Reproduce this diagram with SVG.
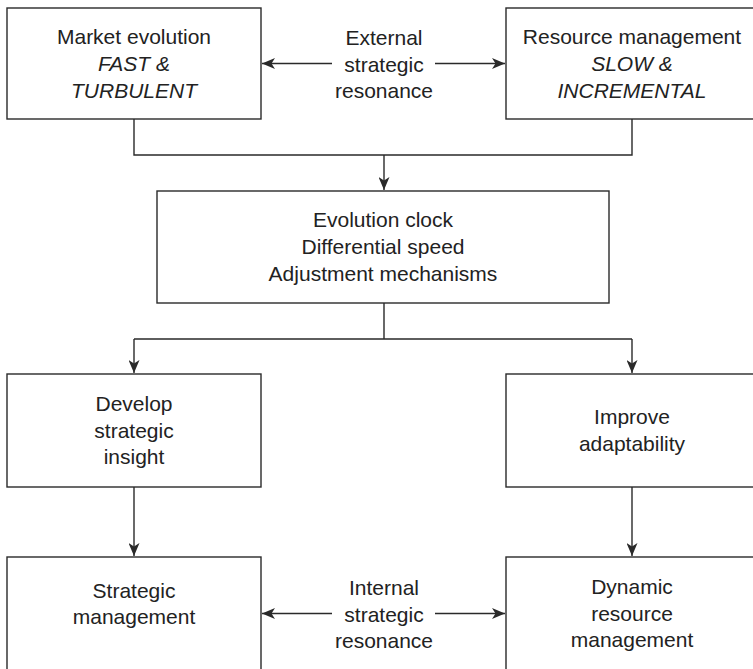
<svg xmlns="http://www.w3.org/2000/svg" width="753" height="669" viewBox="0 0 753 669">
  <style>
    .box { fill: #ffffff; stroke: #2a2a2a; stroke-width: 1.4; }
    .wire { fill: none; stroke: #2a2a2a; stroke-width: 1.4; }
    text { font-family: "Liberation Sans", Arial, sans-serif; font-size: 21px; fill: #222222; text-anchor: middle; }
    .it { font-style: italic; }
  </style>
  <defs>
    <marker id="head" viewBox="0 0 13 11" refX="13" refY="5.5" markerWidth="13" markerHeight="11" markerUnits="userSpaceOnUse" orient="auto">
      <path d="M0,0 L13,5.5 L0,11 L3.5,5.5 Z" fill="#2a2a2a"/>
    </marker>
  </defs>
  <rect width="753" height="669" fill="#ffffff"/>

  <g id="market-evolution">
    <rect class="box" x="7" y="8" width="254" height="111"/>
    <text x="134" y="44">Market evolution</text>
    <text class="it" x="134" y="71">FAST &amp;</text>
    <text class="it" x="134" y="97.5">TURBULENT</text>
  </g>

  <g id="resource-management">
    <rect class="box" x="506" y="8" width="260" height="111"/>
    <text x="632" y="44">Resource management</text>
    <text class="it" x="632" y="71">SLOW &amp;</text>
    <text class="it" x="632" y="97.5">INCREMENTAL</text>
  </g>

  <g id="external-resonance">
    <text x="384" y="45">External</text>
    <text x="384" y="71.5">strategic</text>
    <text x="384" y="98">resonance</text>
  </g>

  <g id="evolution-clock">
    <rect class="box" x="157" y="191" width="452" height="112"/>
    <text x="383" y="227">Evolution clock</text>
    <text x="383" y="254">Differential speed</text>
    <text x="383" y="280.5">Adjustment mechanisms</text>
  </g>

  <g id="develop-insight">
    <rect class="box" x="7" y="374" width="254" height="113"/>
    <text x="134" y="410.5">Develop</text>
    <text x="134" y="437.5">strategic</text>
    <text x="134" y="464">insight</text>
  </g>

  <g id="improve-adaptability">
    <rect class="box" x="506" y="374" width="260" height="113"/>
    <text x="632" y="424">Improve</text>
    <text x="632" y="450.5">adaptability</text>
  </g>

  <g id="strategic-management">
    <rect class="box" x="7" y="557" width="254" height="130"/>
    <text x="134" y="597.5">Strategic</text>
    <text x="134" y="624">management</text>
  </g>

  <g id="dynamic-resource-management">
    <rect class="box" x="506" y="557" width="260" height="130"/>
    <text x="632" y="593.5">Dynamic</text>
    <text x="632" y="620.5">resource</text>
    <text x="632" y="647">management</text>
  </g>

  <g id="internal-resonance">
    <text x="384" y="595">Internal</text>
    <text x="384" y="621.5">strategic</text>
    <text x="384" y="648">resonance</text>
  </g>

  <g id="connectors">
    <!-- external resonance arrows -->
    <line class="wire" x1="332" y1="63.5" x2="262" y2="63.5" marker-end="url(#head)"/>
    <line class="wire" x1="435" y1="63.5" x2="505" y2="63.5" marker-end="url(#head)"/>
    <!-- top boxes merge into the evolution clock -->
    <path class="wire" d="M134,119 V155 H632 V119"/>
    <line class="wire" x1="384" y1="155" x2="384" y2="190" marker-end="url(#head)"/>
    <!-- evolution clock splits to both branches -->
    <path class="wire" d="M384,303 V339 M134,339 H632"/>
    <line class="wire" x1="134" y1="339" x2="134" y2="373" marker-end="url(#head)"/>
    <line class="wire" x1="632" y1="339" x2="632" y2="373" marker-end="url(#head)"/>
    <!-- branches down to the bottom row -->
    <line class="wire" x1="134" y1="487" x2="134" y2="556" marker-end="url(#head)"/>
    <line class="wire" x1="632" y1="487" x2="632" y2="556" marker-end="url(#head)"/>
    <!-- internal resonance arrows -->
    <line class="wire" x1="332" y1="613.5" x2="262" y2="613.5" marker-end="url(#head)"/>
    <line class="wire" x1="435" y1="613.5" x2="505" y2="613.5" marker-end="url(#head)"/>
  </g>
</svg>
